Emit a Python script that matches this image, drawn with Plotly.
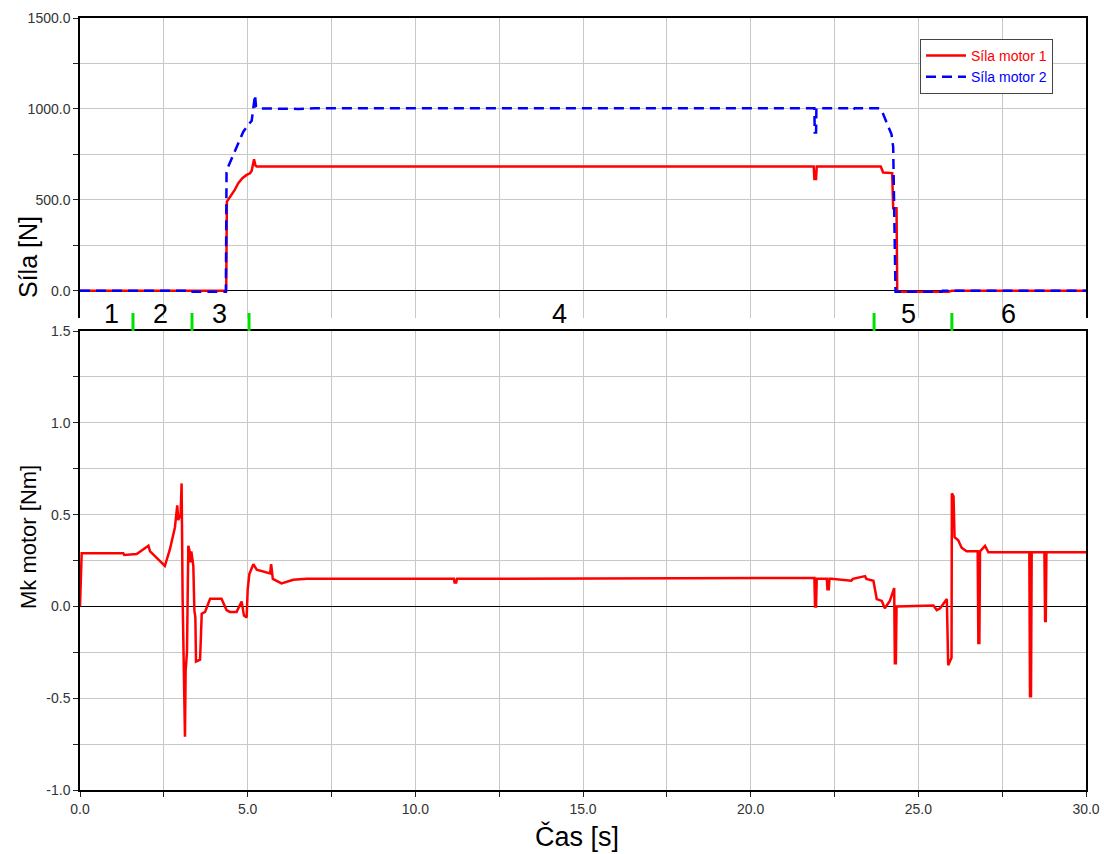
import plotly.graph_objects as go

# ---- data ----
t_m1 = [0, 3.05, 3.1, 3.8, 3.85, 4.36, 4.38, 4.5, 4.6, 4.72, 4.85, 4.97, 5.07, 5.12, 5.19, 5.23, 5.27,
        21.88, 21.9, 21.95, 21.97, 23.88, 23.95, 24.22, 24.25, 24.35, 24.37, 24.4, 25.9, 26.0, 30]
f_m1 = [0, 0, 4, 4, 0, 0, 490, 520, 550, 592, 620, 637, 646, 660, 723, 690, 683,
        683, 615, 615, 683, 683, 650, 647, 454, 454, 0, -5, -5, 0, 0]

t_m2 = [0, 3.25, 3.26, 4.35, 4.37, 4.42, 4.57, 4.72, 4.87, 5.02, 5.07, 5.12, 5.22, 5.25, 5.3, 6.5, 7.0,
        21.9, 21.91, 21.95, 21.96, 23.0, 23.05, 23.1, 23.8, 23.9, 24.0, 24.1, 24.2, 24.25, 24.3, 24.32,
        25.7, 25.72, 30]
f_m2 = [0, 0, -5, -5, 650, 683, 747, 811, 875, 912, 921, 935, 1077, 1013, 1003, 1000, 1003,
        1003, 870, 870, 1003, 1003, 995, 1003, 1003, 995, 950, 900, 860, 790, 0, -5,
        -5, 0, 0]

t_mk = [0, 0.05, 1.29, 1.32, 1.69, 2.04, 2.09, 2.53, 2.68, 2.83, 2.90, 2.93, 3.0, 3.03, 3.06, 3.09,
        3.13, 3.15, 3.19, 3.23, 3.26, 3.29, 3.32, 3.38, 3.41, 3.44, 3.46, 3.58, 3.63, 3.73, 3.88,
        4.22, 4.37, 4.47, 4.67, 4.82, 4.89, 4.97, 5.0, 5.05, 5.17, 5.27, 5.47, 5.67, 5.70, 5.75,
        6.01, 6.36, 6.76, 7.36, 11.15, 11.17, 11.22, 11.24, 21.9, 21.92, 21.95, 21.97, 22.27,
        22.29, 22.33, 22.35, 22.41, 23.0, 23.05, 23.41, 23.45, 23.66, 23.76, 23.91, 24.0, 24.15,
        24.28, 24.3, 24.33, 24.35, 25.45, 25.55, 25.65, 25.85, 25.89, 25.99, 26.0, 26.05, 26.08,
        26.19, 26.29, 26.44, 26.77, 26.79, 26.82, 26.84, 26.99, 27.09, 28.31, 28.33, 28.36, 28.38,
        28.76, 28.78, 28.80, 28.82, 30]
mk = [0, 0.29, 0.29, 0.28, 0.285, 0.33, 0.30, 0.22, 0.31, 0.43, 0.55, 0.47, 0.50, 0.67, 0.05, -0.25,
      -0.71, -0.35, -0.25, 0.33, 0.31, 0.24, 0.30, 0.22, -0.02, -0.06, -0.30, -0.29, -0.04, -0.03, 0.042,
      0.042, -0.02, -0.03, -0.03, 0.027, -0.05, -0.06, 0.09, 0.176, 0.23, 0.20, 0.19, 0.18, 0.23, 0.15,
      0.125, 0.145, 0.15, 0.15, 0.15, 0.13, 0.13, 0.15, 0.155, 0.0, 0.0, 0.15, 0.15,
      0.093, 0.093, 0.15, 0.15, 0.14, 0.15, 0.165, 0.15, 0.14, 0.04, 0.03, -0.01, 0.03,
      0.10, -0.31, -0.31, 0.0, 0.005, -0.02, -0.01, 0.04, -0.32, -0.28, 0.615, 0.60, 0.377,
      0.36, 0.32, 0.30, 0.30, -0.20, -0.20, 0.30, 0.33, 0.295, 0.295, -0.49, -0.49, 0.295,
      0.295, -0.08, -0.08, 0.295, 0.295]

phase_marks = [1.58, 3.34, 5.04, 23.68, 26.0]
phase_labels = ["1", "2", "3", "4", "5", "6"]
phase_label_x = [0.95, 2.39, 4.15, 14.3, 24.7, 27.7]

x_ticks = [i * 2.5 for i in range(13)]
x_text = [f"{v:.1f}" if v % 5 == 0 else "" for v in x_ticks]
y1_ticks = [i * 250 for i in range(7)]
y1_text = [f"{v:.1f}" if v % 500 == 0 else "" for v in y1_ticks]
y2_ticks = [-1 + i * 0.25 for i in range(11)]
y2_text = [f"{v:.1f}" if abs(v * 2 - round(v * 2)) < 1e-9 else "" for v in y2_ticks]

# ---- figure ----
W, H = 1104, 854
L, R, T, B = 80, 18, 18, 64
ph = H - T - B


def py(p):
    return (H - B - p) / ph


def px(p):
    return (p - L) / (W - L - R)


fig = go.Figure()
fig.add_trace(go.Scatter(x=t_m1, y=f_m1, mode="lines", name="<span style='color:#ff0000'>Síla motor 1</span>",
                         line=dict(color="#ff0000", width=2.5), xaxis="x", yaxis="y"))
fig.add_trace(go.Scatter(x=t_m2, y=f_m2, mode="lines", name="<span style='color:#0000ff'>Síla motor 2</span>",
                         line=dict(color="#0000ff", width=2.5, dash="10px,6px"), xaxis="x", yaxis="y"))
fig.add_trace(go.Scatter(x=t_mk, y=mk, mode="lines", showlegend=False,
                         line=dict(color="#ff0000", width=2.5), xaxis="x2", yaxis="y2"))

grid = "#c8c8c8"
tickfont = dict(family="Liberation Sans, Arial", size=14, color="#333")

fig.update_layout(
    width=W, height=H,
    margin=dict(l=L, r=R, t=T, b=B, autoexpand=False),
    paper_bgcolor="white", plot_bgcolor="white",
    showlegend=True,
    legend=dict(x=px(920), y=py(39), xanchor="left", yanchor="top",
                bgcolor="white", bordercolor="#444", borderwidth=1,
                font=dict(family="Liberation Sans, Arial", size=14),
                tracegroupgap=0, itemwidth=40),
    xaxis=dict(domain=[0, 1], anchor="y", range=[0, 30], side="top", automargin=False,
               tickvals=x_ticks, showticklabels=False, ticks="",
               showgrid=True, gridcolor=grid, gridwidth=1,
               showline=True, linecolor="black", linewidth=1.5, zeroline=False),
    yaxis=dict(domain=[py(318), 1], anchor="x", range=[-150, 1500], automargin=False,
               tickvals=y1_ticks, ticktext=y1_text, ticks="outside", ticklen=5, tickcolor="#222",
               tickfont=tickfont, showgrid=True, gridcolor=grid, gridwidth=1,
               showline=True, linecolor="black", linewidth=1.5, mirror=True,
               zeroline=True, zerolinecolor="black", zerolinewidth=1),
    xaxis2=dict(domain=[0, 1], anchor="y2", range=[0, 30], automargin=False,
                tickvals=x_ticks, ticktext=x_text, ticks="outside", ticklen=5, tickcolor="#222",
                tickfont=tickfont, showgrid=True, gridcolor=grid, gridwidth=1,
                showline=True, linecolor="black", linewidth=2, mirror=True, zeroline=False),
    yaxis2=dict(domain=[0, py(331)], anchor="x2", range=[-1, 1.5], automargin=False,
                tickvals=y2_ticks, ticktext=y2_text, ticks="outside", ticklen=5, tickcolor="#222",
                tickfont=tickfont, showgrid=True, gridcolor=grid, gridwidth=1,
                showline=True, linecolor="black", linewidth=1.5, mirror=True,
                zeroline=True, zerolinecolor="black", zerolinewidth=1),
)

# phase boundary markers
for xm in phase_marks:
    fig.add_shape(type="line", xref="x", yref="paper", x0=xm, x1=xm, y0=py(331), y1=py(313),
                  line=dict(color="#00e000", width=3))

# phase labels
for lab, xl in zip(phase_labels, phase_label_x):
    fig.add_annotation(x=xl, xref="x", y=py(314), yref="paper", text=lab, showarrow=False,
                       font=dict(family="Liberation Sans, Arial", size=27, color="black"),
                       xanchor="center", yanchor="middle")

# axis titles
fig.add_annotation(x=px(28), y=py(257), xref="paper", yref="paper", text="Síla [N]", textangle=-90,
                   showarrow=False, font=dict(family="Liberation Sans, Arial", size=25, color="black"),
                   xanchor="center", yanchor="middle")
fig.add_annotation(x=px(28), y=py(537), xref="paper", yref="paper", text="Mk motor [Nm]", textangle=-90,
                   showarrow=False, font=dict(family="Liberation Sans, Arial", size=22, color="black"),
                   xanchor="center", yanchor="middle")
fig.add_annotation(x=px(577), y=py(836), xref="paper", yref="paper", text="Čas [s]",
                   showarrow=False, font=dict(family="Liberation Sans, Arial", size=27, color="black"),
                   xanchor="center", yanchor="middle")

fig.write_html("out.html")
